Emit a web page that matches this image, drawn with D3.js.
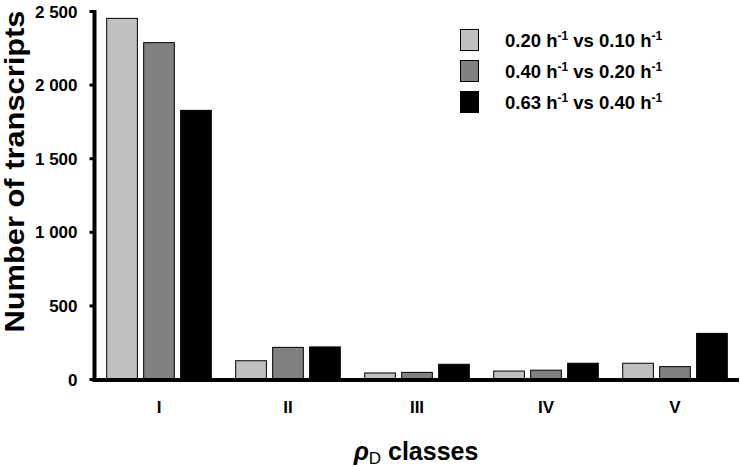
<!DOCTYPE html>
<html>
<head>
<meta charset="utf-8">
<script src="https://cdn.jsdelivr.net/npm/d3@7"></script>
<style>
  body { margin: 0; background: #fff; }
  svg text { font-family: "Liberation Sans", Arial, sans-serif; font-weight: bold; fill: #000; }
</style>
</head>
<body>
<svg id="chart" width="742" height="467"></svg>
<script>
// data
var classes = ["I", "II", "III", "IV", "V"];
var seriesNames = [["0.20", "0.10"], ["0.40", "0.20"], ["0.63", "0.40"]];
var seriesColors = ["#c0c0c0", "#808080", "#000000"];
var s1 = [2450, 124, 41, 54, 107];   // 0.20 vs 0.10
var s2 = [2285, 215, 45, 60, 84];    // 0.40 vs 0.20
var s3 = [1825, 218, 100, 107, 310]; // 0.63 vs 0.40
var yTicks = [0, 500, 1000, 1500, 2000, 2500];

var series = [s1, s2, s3];
var svg = d3.select("#chart");

var x = d3.scaleBand()
	.domain(classes)
	.range([94.5, 739.5]);

var xi = d3.scaleBand()
	.domain(d3.range(series.length))
	.range([0, x.bandwidth()])
	.paddingInner(0.17)
	.paddingOuter(0.33);

var y = d3.scaleLinear()
	.domain([0, 2500])
	.range([379, 11]);

// bars
var groups = svg.append("g").selectAll("g")
	.data(classes)
	.join("g")
	.attr("transform", function (d) { return "translate(" + x(d) + ",0)"; });

groups.selectAll("rect")
	.data(function (d, i) {
		return series.map(function (s, k) { return {k: k, v: s[i]}; });
	})
	.join("rect")
	.attr("x", function (d) { return xi(d.k); })
	.attr("width", xi.bandwidth())
	.attr("y", function (d) { return y(d.v); })
	.attr("height", function (d) { return y(0) - y(d.v); })
	.style("fill", function (d) { return seriesColors[d.k]; })
	.style("stroke", "#000")
	.style("stroke-width", 1);

// y axis
var yAxis = svg.append("g")
	.attr("transform", "translate(94.5,0)")
	.call(d3.axisLeft(y).tickValues(yTicks).tickSize(5).tickPadding(12)
		.tickFormat(function (d) { return d3.format(",")(d).replace(",", " "); }));
yAxis.select(".domain").remove();
yAxis.selectAll(".tick line").style("stroke", "#000").style("stroke-width", 3);
yAxis.selectAll(".tick text").style("font-size", "17px").attr("dy", "0.36em");
yAxis.append("line")
	.attr("x1", 0).attr("x2", 0)
	.attr("y1", y(2500) - 1).attr("y2", y(0) + 3)
	.style("stroke", "#000").style("stroke-width", 4);

// x axis
var xAxis = svg.append("g")
	.attr("transform", "translate(0," + (y(0) + 1) + ")")
	.call(d3.axisBottom(x).tickSize(0).tickPadding(21));
xAxis.select(".domain").remove();
xAxis.selectAll(".tick text").style("font-size", "17px");
xAxis.append("line")
	.attr("x1", 92.5).attr("x2", 739)
	.style("stroke", "#000").style("stroke-width", 4);

// axis titles
svg.append("text")
	.attr("transform", "translate(24,171.5) rotate(-90)")
	.attr("text-anchor", "middle")
	.attr("textLength", 322)
	.attr("lengthAdjust", "spacingAndGlyphs")
	.style("font-size", "28px")
	.text("Number of transcripts");

var xt = svg.append("text")
	.attr("x", 416).attr("y", 460)
	.attr("text-anchor", "middle")
	.style("font-size", "25px");
xt.append("tspan").style("font-style", "italic").text("ρ");
xt.append("tspan").attr("dy", 4).style("font-size", "17px").style("font-weight", "normal").text("D");
xt.append("tspan").attr("dy", -4).text(" classes");

// legend
var legend = svg.append("g").selectAll("g")
	.data(seriesNames)
	.join("g")
	.attr("transform", function (d, i) { return "translate(460.5," + (29.5 + i * 31) + ")"; });

legend.append("rect")
	.attr("width", 18).attr("height", 21)
	.style("fill", function (d, i) { return seriesColors[i]; })
	.style("stroke", "#000").style("stroke-width", 1);

var lt = legend.append("text")
	.attr("x", 44.5).attr("y", 17)
	.style("font-size", "18.5px");
lt.each(function (d) {
	var t = d3.select(this);
	t.append("tspan").text(d[0] + " h");
	t.append("tspan").attr("dy", -7).style("font-size", "12px").text("-1");
	t.append("tspan").attr("dy", 7).text(" vs " + d[1] + " h");
	t.append("tspan").attr("dy", -7).style("font-size", "12px").text("-1");
});
</script>
</body>
</html>
